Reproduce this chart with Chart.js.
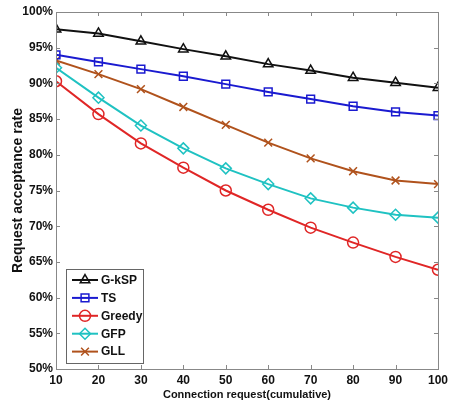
<!DOCTYPE html>
<html>
<head>
<meta charset="utf-8">
<script src="https://cdn.jsdelivr.net/npm/chart.js@4"></script>
<style>
  html, body { margin: 0; padding: 0; background: #fff; }
  #wrap { width: 452px; height: 402px; position: relative; }
</style>
</head>
<body>
<div id="wrap"><canvas id="c"></canvas></div>
<script>
// values (acceptance rate, %)
const requests = [10, 20, 30, 40, 50, 60, 70, 80, 90, 100];
const gksp   = [97.6, 97.0, 95.9, 94.8, 93.8, 92.7, 91.8, 90.8, 90.1, 89.4];
const ts     = [94.0, 93.0, 92.0, 91.0, 89.9, 88.8, 87.8, 86.8, 86.0, 85.5];
const greedy = [90.3, 85.7, 81.6, 78.2, 75.0, 72.3, 69.8, 67.7, 65.7, 63.9];
const gfp    = [92.2, 88.0, 84.1, 80.9, 78.1, 75.9, 73.9, 72.6, 71.6, 71.2];
const gll    = [93.2, 91.3, 89.2, 86.7, 84.2, 81.7, 79.5, 77.7, 76.4, 75.9];
const yTicks = [50, 55, 60, 65, 70, 75, 80, 85, 90, 95, 100];
const xTicks = [10, 20, 30, 40, 50, 60, 70, 80, 90, 100];

const font = '"Liberation Sans", Arial, sans-serif';

function series(label, vals, color, style, rot) {
  return {
    label: label,
    data: requests.map((x, i) => ({ x: x, y: vals[i] })),
    borderColor: color,
    backgroundColor: 'rgba(0,0,0,0)',
    pointBorderColor: color,
    pointBackgroundColor: 'rgba(0,0,0,0)',
    pointStyle: style,
    pointRotation: rot || 0,
    pointRadius: 5.5,
    pointBorderWidth: 1.5,
    borderWidth: 2,
    tension: 0
  };
}

// inward ticks on all four sides, plus legend box in the lower left
const matlabFrame = {
  id: 'matlabFrame',
  afterDraw(chart) {
    const ctx = chart.ctx, a = chart.chartArea;
    const xs = chart.scales.x, ys = chart.scales.y;
    ctx.save();
    ctx.strokeStyle = '#888';
    ctx.lineWidth = 1;
    ctx.strokeRect(a.left + 0.5, a.top + 0.5, a.right - a.left, a.bottom - a.top);
    ctx.beginPath();
    xTicks.forEach(v => {
      const p = Math.round(xs.getPixelForValue(v)) + 0.5;
      ctx.moveTo(p, a.bottom); ctx.lineTo(p, a.bottom - 4);
      ctx.moveTo(p, a.top); ctx.lineTo(p, a.top + 4);
    });
    yTicks.forEach(v => {
      const p = Math.round(ys.getPixelForValue(v)) + 0.5;
      ctx.moveTo(a.left, p); ctx.lineTo(a.left + 4, p);
      ctx.moveTo(a.right, p); ctx.lineTo(a.right - 4, p);
    });
    ctx.stroke();

    // legend
    const bx = 66, by = 269, bw = 77, bh = 94;
    ctx.fillStyle = '#fff';
    ctx.fillRect(bx, by, bw, bh);
    ctx.strokeStyle = '#666';
    ctx.strokeRect(bx + 0.5, by + 0.5, bw, bh);
    ctx.font = 'bold 12px ' + font;
    ctx.textBaseline = 'middle';
    chart.data.datasets.forEach((ds, i) => {
      const y = by + 11 + i * 17.9;
      ctx.strokeStyle = ds.borderColor;
      ctx.lineWidth = 2;
      ctx.beginPath();
      ctx.moveTo(72, y); ctx.lineTo(98, y);
      ctx.stroke();
      ctx.lineWidth = 1.5;
      ctx.fillStyle = 'rgba(0,0,0,0)';
      if (Chart.helpers && Chart.helpers.drawPoint) {
        Chart.helpers.drawPoint(ctx, { pointStyle: ds.pointStyle, rotation: ds.pointRotation, radius: 5.5, borderWidth: 1.5 }, 85, y);
      }
      ctx.fillStyle = '#111';
      ctx.fillText(ds.label, 101, y + 0.5);
    });
    ctx.restore();
  }
};

new Chart(document.getElementById('c'), {
  type: 'line',
  data: {
    datasets: [
      series('G-kSP', gksp, '#111111', 'triangle'),
      series('TS', ts, '#1a1ad0', 'rect'),
      series('Greedy', greedy, '#e02626', 'circle'),
      series('GFP', gfp, '#1fc2c2', 'rectRot'),
      series('GLL', gll, '#b0521c', 'crossRot')
    ]
  },
  options: {
    responsive: true,
    maintainAspectRatio: false,
    animation: false,
    layout: { padding: { top: 12, right: 8, left: 0, bottom: 0 } },
    plugins: { legend: { display: false }, tooltip: { enabled: false } },
    scales: {
      x: {
        type: 'linear', min: 10, max: 100,
        afterBuildTicks: s => { s.ticks = xTicks.map(v => ({ value: v })); },
        afterFit: s => { s.height = 33; },
        grid: { display: false, drawTicks: false },
        border: { display: false },
        ticks: { padding: 4, color: '#111', font: { family: font, size: 12, weight: 'bold' }, maxRotation: 0 },
        title: { display: true, text: 'Connection request(cumulative)', color: '#111', padding: 0,
                 font: { family: font, size: 11, weight: 'bold' } }
      },
      y: {
        min: 50, max: 100,
        afterBuildTicks: s => { s.ticks = yTicks.map(v => ({ value: v })); },
        afterFit: s => { s.width = 56; },
        grid: { display: false, drawTicks: false },
        border: { display: false },
        ticks: { padding: 3, color: '#111', font: { family: font, size: 12, weight: 'bold' },
                 callback: v => v + '%' },
        title: { display: true, text: 'Request acceptance rate', color: '#111', padding: { top: 10, bottom: 0 },
                 font: { family: font, size: 14, weight: 'bold' } }
      }
    }
  },
  plugins: [matlabFrame]
});
</script>
</body>
</html>
